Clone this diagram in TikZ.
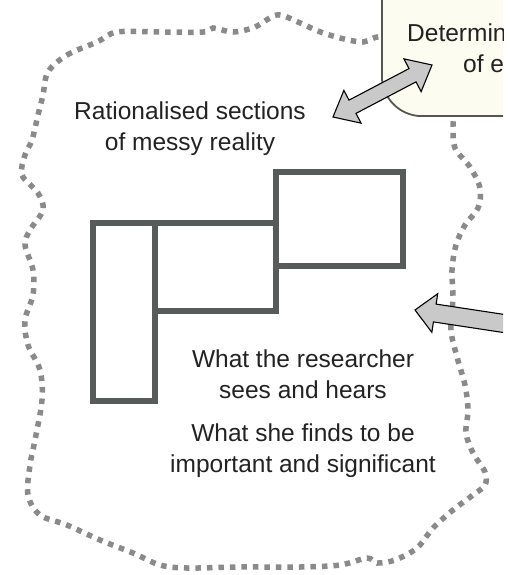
\documentclass[tikz,border=0pt]{standalone}
\usepackage{fontspec}
\setmainfont{Liberation Sans}
\usetikzlibrary{calc}
\definecolor{ink}{HTML}{222222}
\definecolor{secline}{HTML}{575C5A}
\definecolor{dotgrey}{HTML}{8A8A8A}
\definecolor{boxfill}{HTML}{FCFCF1}
\definecolor{boxline}{HTML}{555555}
\definecolor{arrowfill}{HTML}{C9C9C9}
\begin{document}
\begin{tikzpicture}[x=1pt,y=-1pt,
  label/.style={font=\fontsize{24.5}{31}\selectfont, text=ink, align=center, inner sep=0pt},
  secbox/.style={draw=secline, line width=5.5pt, inner sep=0pt, outer sep=0pt},
  boundary/.style={draw=dotgrey, line width=5.5pt, dash pattern=on 5.5pt off 6pt},
  blockarrow/.style={fill=arrowfill, draw=black, line width=1.1pt, line join=miter}]
\useasboundingbox (0,0) rectangle (517,575);
\begin{scope}
\clip (0,0) rectangle (503,575);
% dotted boundary of messy reality
\draw[boundary] plot[smooth cycle, tension=0.55] coordinates {
  (48,72) (67,55) (97,42) (117,32) (160,32) (203,32) (213,28) (233,32)
  (255,27) (277,15) (298,22) (318,31) (340,38) (363,42) (385,38)
  (430,70) (453,105)
  (453,125) (455,148) (470,167) (480,188) (478,208) (465,225) (456,245)
  (452,270) (453,297) (451,330) (457,357) (465,385) (468,410) (466,433)
  (473,453) (485,472) (485,485) (473,495) (453,510) (433,528) (417,548)
  (395,560) (377,563) (367,558) (340,565) (300,567) (240,567) (187,568)
  (160,565) (133,553) (100,540) (67,525) (40,515) (28,495) (30,465)
  (35,440) (42,400) (40,370) (28,345) (25,320) (33,295) (33,270)
  (25,245) (30,230) (43,210) (38,193) (22,175) (25,155) (32,140)
  (38,115) (43,95)};
% box of determining structures
\node[draw=boxline, fill=boxfill, line width=1.8pt, rounded corners=40pt,
      minimum width=220pt, minimum height=220pt, anchor=south west,
      inner sep=0pt] (detbox) at (381,117) {};
\node[label, anchor=base west] (det1) at (407,42) {Determin};
\node[label, anchor=base west] (det2) at (463,73) {of e};
% labels (base anchor sits on the last line)
\node[label, anchor=base] (rat) at (190,150) {Rationalised sections\\of messy reality};
\node[label, anchor=base] (sees) at (303,398) {What the researcher\\sees and hears};
\node[label, anchor=base] (finds) at (303,472) {What she finds to be\\important and significant};
% rationalised sections
\node[secbox, minimum width=62pt, minimum height=178pt] (s1) at (124,312) {};
\node[secbox, minimum width=121pt, minimum height=88pt] (s2) at (215.5,267) {};
\node[secbox, minimum width=127pt, minimum height=94pt] (s3) at (339.5,219) {};
% double block arrow between the box and the sections label
\coordinate (dP) at (333,117);
\coordinate (dQ) at (432,65);
\draw[blockarrow] (dP)
  -- ($(dP)!22pt!(dQ)!18.5pt!90:(dQ)$) -- ($(dP)!22pt!(dQ)!7.5pt!90:(dQ)$)
  -- ($(dQ)!22pt!(dP)!7.5pt!-90:(dP)$) -- ($(dQ)!22pt!(dP)!18.5pt!-90:(dP)$)
  -- (dQ)
  -- ($(dQ)!22pt!(dP)!18.5pt!90:(dP)$) -- ($(dQ)!22pt!(dP)!7.5pt!90:(dP)$)
  -- ($(dP)!22pt!(dQ)!7.5pt!-90:(dQ)$) -- ($(dP)!22pt!(dQ)!18.5pt!-90:(dQ)$)
  -- cycle;
% single block arrow entering from the right
\coordinate (sTip) at (415,310);
\coordinate (sTail) at (540,329);
\draw[blockarrow] (sTip)
  -- ($(sTip)!20pt!(sTail)!19.5pt!90:(sTail)$) -- ($(sTip)!20pt!(sTail)!9pt!90:(sTail)$)
  -- ($(sTail)!9pt!-90:(sTip)$) -- ($(sTail)!9pt!90:(sTip)$)
  -- ($(sTip)!20pt!(sTail)!9pt!-90:(sTail)$) -- ($(sTip)!20pt!(sTail)!19.5pt!-90:(sTail)$)
  -- cycle;
\end{scope}
\end{tikzpicture}
\end{document}
